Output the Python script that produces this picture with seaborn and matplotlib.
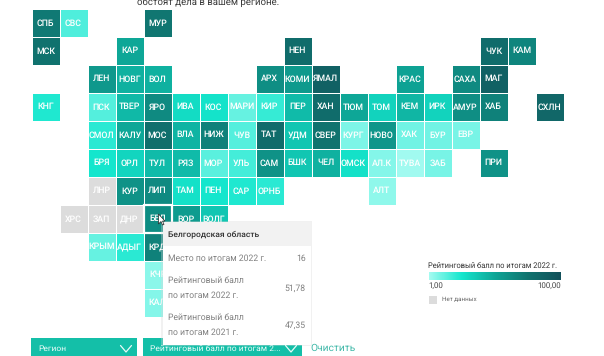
import numpy as np
import matplotlib
matplotlib.use("Agg")
import matplotlib.pyplot as plt
from matplotlib.colors import LinearSegmentedColormap, ListedColormap
from matplotlib.patches import Rectangle
import seaborn as sns

sns.set_style("white")
plt.rcParams["font.family"] = ["Roboto", "DejaVu Sans"]
plt.rcParams["text.hinting"] = "no_hinting"

# Tile-grid map: one list per row of the tile grid; "" = no tile
region_rows = [
    ["СПБ","СВС","","","МУР","","","","","","","","","","","","","",""],
    ["МСК","","","КАР","","","","","","НЕН","","","","","","","ЧУК","КАМ",""],
    ["","","ЛЕН","НОВГ","ВОЛ","","","","АРХ","КОМИ","ЯМАЛ","","","КРАС","","САХА","МАГ","",""],
    ["КНГ","","ПСК","ТВЕР","ЯРО","ИВА","КОС","МАРИ","КИР","ПЕР","ХАН","ТЮМ","ТОМ","КЕМ","ИРК","АМУР","ХАБ","","СХЛН"],
    ["","","СМОЛ","КАЛУ","МОС","ВЛА","НИЖ","ЧУВ","ТАТ","УДМ","СВЕР","КУРГ","НОВО","ХАК","БУР","ЕВР","","",""],
    ["","","БРЯ","ОРЛ","ТУЛ","РЯЗ","МОР","УЛЬ","САМ","БШК","ЧЕЛ","ОМСК","АЛ.К","ТУВА","ЗАБ","","ПРИ","",""],
    ["","","ЛНР","КУР","ЛИП","ТАМ","ПЕН","САР","ОРНБ","","","","АЛТ","","","","","",""],
    ["","ХРС","ЗАП","ДНР","БЕЛ","ВОР","ВОЛГ","","","","","","","","","","","",""],
    ["","","КРЫМ","АДЫГ","КРД","","","","","","","","","","","","","",""],
    ["","","","","КЧР","","","","","","","","","","","","","",""],
    ["","","","","КАЛ","","","","","","","","","","","","","",""],
]
_ = None
score_rows = [
    [72,16,_,_,74,_,_,_,_,_,_,_,_,_,_,_,_,_,_],
    [76,_,_,50,_,_,_,_,_,80,_,_,_,_,_,_,80,66,_],
    [_,_,57,46,46,_,_,_,62,56,88,_,_,52,_,64,88,_,_],
    [24,_,15,43,64,30,27,12,20,42,80,50,33,44,33,62,68,_,84],
    [_,_,22,50,78,45,68,15,80,38,75,8,58,10,10,9,_,_,_],
    [_,_,26,32,42,42,14,18,60,38,46,28,7,2,9,_,60,_,_],
    [_,_,_,60,64,28,26,24,22,_,_,_,5,_,_,_,_,_,_],
    [_,_,_,_,51.78,55,38,_,_,_,_,_,_,_,_,_,_,_,_],
    [_,_,12,22,68,_,_,_,_,_,_,_,_,_,_,_,_,_,_],
    [_,_,_,_,6,_,_,_,_,_,_,_,_,_,_,_,_,_,_],
    [_,_,_,_,7,_,_,_,_,_,_,_,_,_,_,_,_,_,_],
]
no_data_regions = ["ЛНР", "ХРС", "ЗАП", "ДНР"]

legend_title = "Рейтинговый балл по итогам 2022 г."
scale_min, scale_max = 1.00, 100.00
scale_labels = ["1,00", "100,00"]
no_data_label = "Нет данных"

tooltip_title = "Белгородская область"
tooltip_labels = ["Место по итогам 2022 г.",
                  "Рейтинговый балл\nпо итогам 2022 г.",
                  "Рейтинговый балл\nпо итогам 2021 г."]
tooltip_values = ["16", "51,78", "47,35"]

header_text = "обстоят дела в вашем регионе."
filter_labels = ["Регион", "Рейтинговый балл по итогам 2..."]
clear_label = "Очистить"

W, H = 604, 356
cmap = LinearSegmentedColormap.from_list(
    "rating", ["#a6fbf1", "#14e6cd", "#0ea596", "#10736f", "#12505a"])
GREY = "#dcdcdc"
TEAL = "#14bfa8"

labels = np.array(region_rows)
scores = np.array(score_rows, dtype=float)
is_grey = np.isin(labels, no_data_regions)


def frac_axes(x0, y0, x1, y1):
    return [x0 / W, 1 - y1 / H, (x1 - x0) / W, (y1 - y0) / H]


fig = plt.figure(figsize=(W / 100, H / 100), dpi=100, facecolor="white")
ax = fig.add_axes(frac_axes(31.5, 9, 563.5, 317))
cax = fig.add_axes(frac_axes(428.5, 272, 561, 280))

annot_kws = dict(color="white", fontsize=6.3, fontweight="medium")
sns.heatmap(scores, ax=ax, mask=np.isnan(scores), cmap=cmap, vmin=scale_min, vmax=scale_max,
            annot=labels, fmt="", annot_kws=annot_kws, linewidths=0.6, linecolor="white",
            square=False, xticklabels=False, yticklabels=False,
            cbar=True, cbar_ax=cax, cbar_kws=dict(orientation="horizontal"))
sns.heatmap(np.where(is_grey, 1.0, np.nan), ax=ax, mask=~is_grey, cmap=ListedColormap([GREY]),
            annot=labels, fmt="", annot_kws=annot_kws, linewidths=0.6, linecolor="white",
            cbar=False, xticklabels=False, yticklabels=False)

# hovered tile: darker fill with a white inset border
hover_r, hover_c = np.argwhere(labels == "БЕЛ")[0]
ax.add_patch(Rectangle((hover_c, hover_r), 1, 1, facecolor="#0b5f5c", alpha=0.3,
                       edgecolor="none", zorder=2))
ax.add_patch(Rectangle((hover_c, hover_r), 1, 1, facecolor="none", edgecolor="white",
                       lw=1.6, zorder=2.5))

cb = ax.collections[0].colorbar
cb.outline.set_visible(False)
cb.set_ticks([scale_min, scale_max])
cb.set_ticklabels(scale_labels)
cb.ax.tick_params(length=0, pad=1.5, labelsize=5.7, labelcolor="#444444")
tl = cb.ax.get_xticklabels()
tl[0].set_ha("left")
tl[1].set_ha("right")

# page chrome in pixel coordinates
ui = fig.add_axes([0, 0, 1, 1], zorder=10)
ui.set_xlim(0, W)
ui.set_ylim(H, 0)
ui.axis("off")
ui.patch.set_alpha(0)

ui.text(137, 2, header_text, fontsize=6.9, color="#3a3a3a", va="center", ha="left")
ui.text(428.5, 266, legend_title, fontsize=5.45, color="#333333", va="center", ha="left")
ui.add_patch(Rectangle((429, 296), 7.5, 7.5, facecolor=GREY, edgecolor="none"))
ui.text(442, 299.5, no_data_label, fontsize=4.5, color="#666666", va="center", ha="left")

# filter boxes
ui.add_patch(Rectangle((31, 337.5), 106, 19, facecolor=TEAL, edgecolor="none", zorder=1))
ui.add_patch(Rectangle((142.5, 337.5), 159, 19, facecolor=TEAL, edgecolor="none", zorder=1))
ui.text(38.5, 348.5, filter_labels[0], fontsize=6.1, color="#e8fbf8", va="center", zorder=8)
ui.text(149.5, 348.5, filter_labels[1], fontsize=6.1, color="#e8fbf8", va="center", zorder=8)
for cx in (126, 291):
    ui.plot([cx - 5.5, cx, cx + 5.5], [345.5, 352, 345.5], color="#e8fbf8", lw=0.9, zorder=8)
ui.text(310, 348.5, clear_label, fontsize=7.4, color="#3fb8a8", va="center")

# tooltip
ui.add_patch(Rectangle((161, 221), 151, 124.5, facecolor="#d9d9d9", alpha=0.35, edgecolor="none", zorder=3))
ui.add_patch(Rectangle((162.5, 222), 148.5, 122.5, facecolor="white", edgecolor="none", zorder=4))
ui.add_patch(Rectangle((162.5, 222), 148.5, 24, facecolor="#f2f2f2", edgecolor="none", zorder=5))
ui.text(167.5, 234.5, tooltip_title, fontsize=6.1, color="#333333", va="center", fontweight="medium", zorder=6)
for y, lab, val in zip((258, 288, 325), tooltip_labels, tooltip_values):
    ui.text(167.5, y, lab, fontsize=6.25, color="#808080", va="center", linespacing=1.95, zorder=6)
    ui.text(305.5, y, val, fontsize=6.25, color="#808080", va="center", ha="right", zorder=6)

# mouse cursor
ui.fill([158.5, 158.5, 161, 162.5, 164, 162.5, 165], [214, 224, 221.5, 225, 224.5, 221, 221],
        facecolor="#ffffff", edgecolor="#222222", lw=0.5, zorder=7)

fig.savefig("out.png", dpi=100)
